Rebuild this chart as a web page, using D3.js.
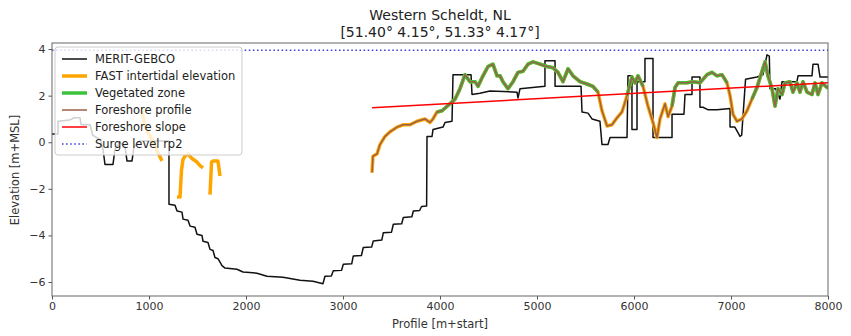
<script src="https://d3js.org/d3.v7.min.js"></script>
<style>
  body { margin: 0; background: white; }
  text { font-family: "DejaVu Sans", sans-serif; }
</style>
<div id="chart"></div>
<script type="text/javascript">

//////// data [distance m, elevation m+MSL]
meritGebco = [
  [0,0.35],[62,0.35],[62,0.9],[180,0.95],[230,1.05],[289,1.05],[300,0.75],[392,0.75],[420,0.3],
  [500,0.1],[526,-0.3],[546,-0.95],[629,-0.95],[649,-0.3],[700,0.0],[753,-0.2],[773,-0.8],
  [825,-0.8],[845,-0.2],[900,0.05],[1206,0.05],[1206,-2.66],[1268,-2.7],[1289,-2.95],[1340,-3.0],
  [1351,-3.3],[1402,-3.35],[1423,-3.6],[1474,-3.65],[1495,-3.95],[1546,-4.0],[1557,-4.25],
  [1608,-4.3],[1629,-4.6],[1660,-4.65],[1680,-4.95],[1711,-5.0],[1753,-5.3],[1784,-5.4],
  [1907,-5.45],[1969,-5.57],[2113,-5.62],[2216,-5.75],[2381,-5.8],[2557,-5.92],[2691,-5.97],
  [2794,-6.07],[2814,-5.75],[2880,-5.74],[2900,-5.52],[2985,-5.5],[3003,-5.24],[3090,-5.22],
  [3106,-4.88],[3190,-4.86],[3209,-4.52],[3295,-4.5],[3312,-4.24],[3400,-4.2],[3416,-3.88],
  [3500,-3.86],[3519,-3.52],[3605,-3.5],[3622,-3.23],[3710,-3.2],[3725,-2.95],[3790,-2.93],
  [3810,-2.76],[3862,-2.74],[3866,0.25],[3918,0.25],[3928,0.55],[4031,0.65],[4052,0.85],
  [4124,0.9],[4134,2.9],[4320,2.9],[4330,2.05],[4412,2.1],[4515,2.2],[4794,2.15],[4804,1.9],
  [4825,2.3],[5082,2.4],[5082,3.5],[5186,3.5],[5186,2.4],[5454,2.4],[5464,1.3],[5526,1.25],
  [5567,1.0],[5649,0.9],[5670,-0.1],[5732,-0.1],[5753,0.2],[5928,0.2],[5938,2.85],[5979,2.85],
  [5979,0.55],[6031,0.55],[6031,2.6],[6113,2.6],[6113,3.6],[6196,3.6],[6196,0.2],[6392,0.2],
  [6392,1.2],[6515,1.2],[6526,2.05],[6598,2.05],[6598,2.8],[6680,2.8],[6680,1.5],[6711,1.5],
  [6760,1.4],[6856,1.4],[6990,1.45],[6990,0.65],[7040,0.65],[7093,0.25],[7110,0.3],[7150,2.7],
  [7268,2.8],[7330,2.9],[7371,3.75],[7395,3.7],[7402,2.3],[7460,2.3],[7505,1.85],[7526,2.6],
  [7680,2.6],[7691,2.85],[7835,2.85],[7845,3.35],[7897,3.35],[7918,2.8],[8000,2.8]
]

// null = gap in the satellite product
fastElevation = [
  [928,1.35],[959,0.7],[1031,0.1],[1093,-0.45],[1134,-0.8],[1140,null],
  [1289,-2.35],[1320,-2.35],[1335,-1.2],[1350,-0.75],[1371,-0.6],[1402,-0.5],[1443,-0.7],
  [1495,-0.85],[1526,-1.0],[1557,-1.1],[1560,null],
  [1629,-2.25],[1645,-0.85],[1660,-0.8],[1711,-0.8],[1732,-1.45],[1740,null],
  [3299,-1.3],[3309,-0.6],[3351,-0.5],[3381,-0.1],[3433,0.25],[3485,0.45],[3557,0.65],
  [3619,0.75],[3691,0.75],[3763,0.9],[3845,1.0],[3897,0.85],[3928,1.0],[3969,1.3],[4021,1.35],
  [4103,1.65],[4155,1.85],[4206,2.3],[4258,2.9],[4309,2.6],[4361,2.6],[4392,2.4],[4443,2.85],
  [4495,3.25],[4546,3.35],[4588,2.85],[4619,2.85],[4649,2.6],[4701,2.3],[4753,2.6],[4804,3.0],
  [4856,3.05],[4907,3.35],[4959,3.45],[5031,3.35],[5103,3.25],[5165,3.2],[5216,3.0],[5268,2.6],
  [5320,3.15],[5371,2.85],[5443,2.6],[5515,2.5],[5577,2.4],[5629,2.15],[5670,1.35],[5722,0.7],
  [5773,0.75],[5825,1.05],[5876,1.3],[5928,2.0],[5979,2.8],[6010,2.55],[6041,2.85],[6093,2.4],
  [6144,1.55],[6196,0.85],[6237,0.2],[6268,1.0],[6320,1.65],[6351,1.1],[6392,1.55],[6423,2.35],
  [6454,2.55],[6546,2.55],[6608,2.6],[6680,2.55],[6753,2.9],[6804,3.0],[6856,2.85],[6907,2.9],
  [6959,2.55],[6990,2.0],[7021,1.2],[7062,0.9],[7113,1.0],[7165,1.35],[7216,1.85],[7268,2.35],
  [7320,3.05],[7351,3.45],[7381,2.85],[7423,2.3],[7454,1.55],[7485,2.3],[7526,2.05],[7557,2.55],
  [7608,2.6],[7639,2.15],[7680,2.55],[7711,2.15],[7742,2.6],[7784,2.15],[7835,2.05],[7866,2.55],
  [7897,2.05],[7938,2.55],[7990,2.35],[8000,2.4]
]

vegetatedZones = [[3960,5640],[5910,6095],[6370,6975],[7190,8000]]
foreshoreStart = 3299
foreshoreSlope = [[3300,1.48],[8000,2.55]]
surgeLevel = 3.95

xTicks = [0,1000,2000,3000,4000,5000,6000,7000,8000]
yTicks = [-6,-4,-2,0,2,4]
legendLabels = ['MERIT-GEBCO','FAST intertidal elevation','Vegetated zone',
                'Foreshore profile','Foreshore slope','Surge level rp2']
titleLines = ['Western Scheldt, NL','[51.40\u00b0 4.15\u00b0, 51.33\u00b0 4.17\u00b0]']

//////// look
styles = [
  {color:'#111', width:1.5},
  {color:'orange', width:3.5},
  {color:'#3cc23c', width:3.5},
  {color:'#9a6248', width:1.5},
  {color:'red', width:1.5},
  {color:'#3b3bdc', width:1.5, dash:'1.5,2.6'}
]

width = 851
height = 336
margin = {top:43, right:23, bottom:40, left:52}

svg = d3.select('#chart')
  .append('svg')
  .attr('width',width)
  .attr('height',height)

//////////  scales
xScale = d3.scaleLinear()
  .domain([0,8000])
  .range([margin.left, width - margin.right])

yScale = d3.scaleLinear()
  .domain([-6.6,4.26])
  .range([height - margin.bottom, margin.top])

svg.append('clipPath').attr('id','plotclip')
  .append('rect')
  .attr('x',margin.left).attr('y',margin.top)
  .attr('width',xScale.range()[1]-margin.left)
  .attr('height',yScale.range()[0]-margin.top)

plot = svg.append('g').attr('clip-path','url(#plotclip)')

inVeg = x => vegetatedZones.some(z => x >= z[0] && x <= z[1])

function draw(data, st, keep) {
  line = d3.line()
    .defined(d => d[1] !== null && (!keep || keep(d)))
    .x(d => xScale(d[0]))
    .y(d => yScale(d[1]))
  plot.append('path')
    .attr('d', line(data))
    .attr('fill','none')
    .attr('stroke',st.color)
    .attr('stroke-width',st.width)
    .attr('stroke-dasharray',st.dash || null)
    .attr('stroke-linejoin','round')
}

///// draw
draw(meritGebco, styles[0])
draw(fastElevation, styles[1])
draw(fastElevation, styles[2], d => inVeg(d[0]))
draw(fastElevation, styles[3], d => d[0] >= foreshoreStart)
draw(foreshoreSlope, styles[4])
draw([[0,surgeLevel],[8000,surgeLevel]], styles[5])

// axis
xAxis = d3.axisBottom(xScale).tickValues(xTicks).tickSize(3.5).tickPadding(3)
  .tickFormat(d3.format('d'))
yAxis = d3.axisLeft(yScale).tickValues(yTicks).tickSize(3.5).tickPadding(3)
  .tickFormat(d => d < 0 ? '\u2212' + Math.abs(d) : d)

gx = svg.append('g')
  .attr('transform', `translate(0 ${height - margin.bottom})`)
  .call(xAxis)
gy = svg.append('g')
  .attr('transform', `translate(${margin.left} 0)`)
  .call(yAxis)

;[gx, gy].forEach(g => {
  g.select('.domain').remove()
  g.selectAll('line').attr('stroke','#555')
  g.selectAll('text').attr('font-size','11px').attr('fill','#333')
    .style('font-family','"DejaVu Sans", sans-serif')
})

// frame
svg.append('rect')
  .attr('x',margin.left).attr('y',margin.top)
  .attr('width',xScale.range()[1]-margin.left)
  .attr('height',yScale.range()[0]-margin.top)
  .attr('fill','none')
  .attr('stroke','#666')
  .attr('stroke-width',1)

// labels
svg.append('text')
  .attr('x',(xScale.range()[0]+xScale.range()[1])/2)
  .attr('y',328)
  .attr('text-anchor','middle')
  .attr('font-size','11.5px')
  .attr('fill','#333')
  .text('Profile [m+start]')

svg.append('text')
  .attr('transform','translate(19 170) rotate(-90)')
  .attr('text-anchor','middle')
  .attr('font-size','11.5px')
  .attr('fill','#333')
  .text('Elevation [m+MSL]')

svg.selectAll('text.title')
  .data(titleLines)
  .join('text')
  .attr('class','title')
  .attr('x',(xScale.range()[0]+xScale.range()[1])/2)
  .attr('y',(d,i) => 20 + i*17)
  .attr('text-anchor','middle')
  .attr('font-size','14px')
  .attr('fill','#222')
  .text(d => d)

//////// legend
legend = svg.append('g').attr('transform','translate(55 47)')
legend.append('rect')
  .attr('width',187).attr('height',108)
  .attr('rx',3)
  .attr('fill','white').attr('fill-opacity',0.8)
  .attr('stroke','#ccc')

entries = legend.selectAll('g.entry')
  .data(legendLabels)
  .join('g')
  .attr('class','entry')
  .attr('transform',(d,i) => `translate(0 ${12 + i*17})`)

entries.append('line')
  .attr('x1',7).attr('x2',32)
  .attr('stroke',(d,i) => styles[i].color)
  .attr('stroke-width',(d,i) => styles[i].width)
  .attr('stroke-dasharray',(d,i) => styles[i].dash || null)

entries.append('text')
  .attr('x',40)
  .attr('dy','0.36em')
  .attr('font-size','11.5px')
  .attr('fill','#222')
  .text(d => d)

</script>
